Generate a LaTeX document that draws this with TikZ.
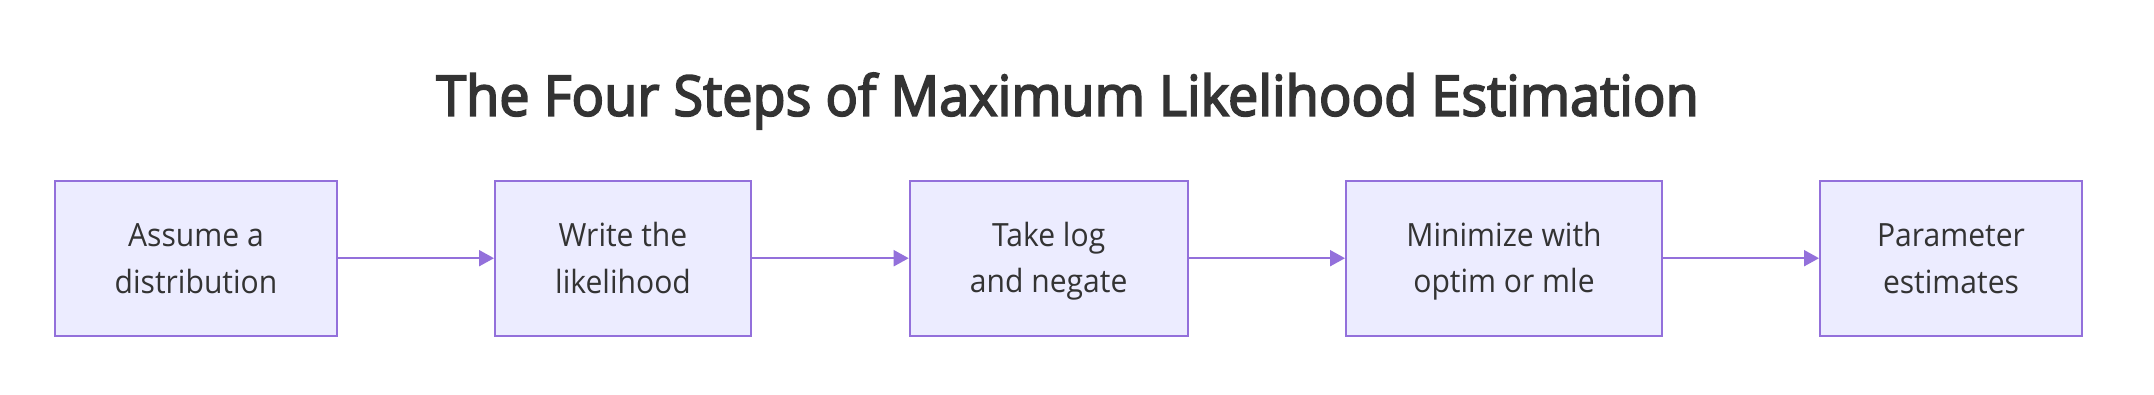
\documentclass[tikz,border=0pt]{standalone}
\usepackage{fontspec}
\setmainfont{Open Sans}[FakeStretch=0.94]
\newfontfamily\titlefont{Open Sans}[FakeStretch=0.965,FakeBold=3.2]
\usetikzlibrary{arrows.meta}
\definecolor{txt}{HTML}{333333}
\definecolor{edge}{HTML}{9370DB}
\definecolor{boxfill}{HTML}{ECECFF}
\newcommand{\upstrut}{\rule{0pt}{30pt}}
\newcommand{\dnstrut}{\rule[-6.3pt]{0pt}{0pt}}
\tikzset{
  stepbox/.style={draw=edge, fill=boxfill, line width=2pt, minimum height=155pt,
    inner sep=0pt, align=center, text=txt, font=\fontsize{32}{46.7}\selectfont},
  flow/.style={draw=edge, line width=2pt, -{Triangle[length=15pt,width=16pt]}},
}
\begin{document}
\begin{tikzpicture}[x=1pt,y=-1pt]
\useasboundingbox[fill=white] (0,0) rectangle (2154,394);
\node[anchor=base, text=txt, font=\fontsize{56}{60}\titlefont] (title) at (1067.5,115.7) {The Four Steps of Maximum Likelihood Estimation};
\node[stepbox, minimum width=281.4pt] (s1) at (196,258.2) {\upstrut Assume a\\distribution\dnstrut};
\node[stepbox, minimum width=256pt] (s2) at (623,258.2) {\upstrut Write the\\likelihood\dnstrut};
\node[stepbox, minimum width=278pt] (s3) at (1048.7,258.2) {\upstrut Take log\\and negate\dnstrut};
\node[stepbox, minimum width=316pt] (s4) at (1504,258.2) {\upstrut Minimize with\\optim or mle\dnstrut};
\node[stepbox, minimum width=262pt] (s5) at (1951,258.2) {\upstrut Parameter\\estimates\dnstrut};
\draw[flow] (s1) -- (s2);
\draw[flow] (s2) -- (s3);
\draw[flow] (s3) -- (s4);
\draw[flow] (s4) -- (s5);
\end{tikzpicture}
\end{document}
